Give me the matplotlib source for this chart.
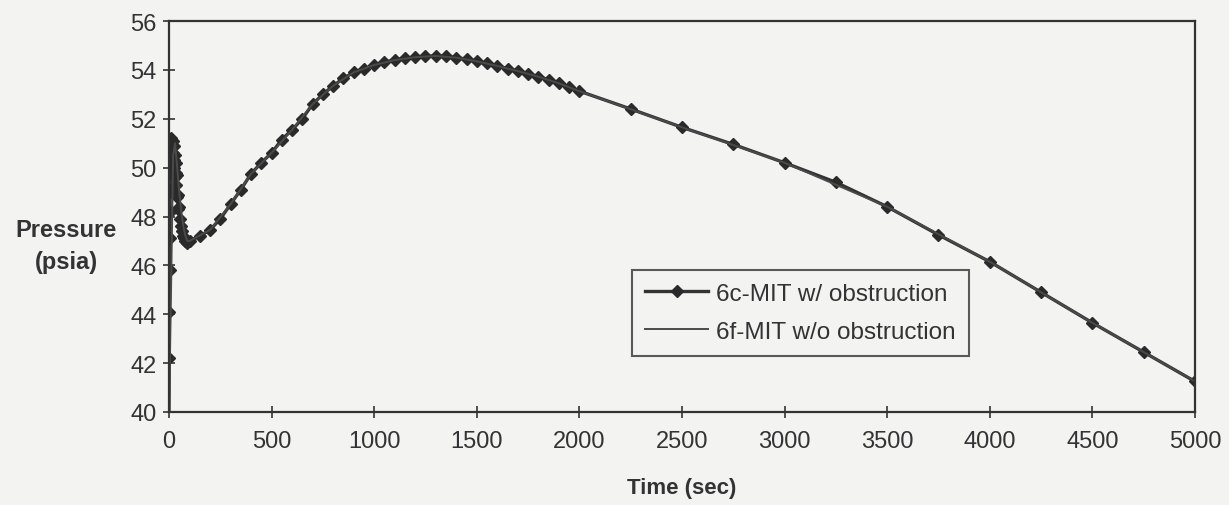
import matplotlib
matplotlib.use('Agg')
import matplotlib.pyplot as plt

# 6c-MIT w/ obstruction (diamond markers)
t_6c = [0, 1, 2, 3, 4, 5, 6, 8, 10, 12, 14, 16, 18, 20, 22, 24, 26, 28, 30, 32,
        34, 36, 38, 40, 43, 46, 50, 55, 60, 65, 70, 75, 80, 88,
        100, 150, 200, 250, 300, 350, 400, 450, 500, 550, 600, 650, 700, 750,
        800, 850, 900, 950, 1000, 1050, 1100, 1150, 1200, 1250, 1300, 1350,
        1400, 1450, 1500, 1550, 1600, 1650, 1700, 1750, 1800, 1850, 1900, 1950,
        2000, 2250, 2500, 2750, 3000, 3250, 3500, 3750, 4000, 4250, 4500, 4750, 5000]
p_6c = [39.8, 42.2, 44.1, 45.8, 47.1, 48.2, 49.0, 50.0, 50.8, 51.2, 50.9, 50.4, 51.1, 50.6,
        50.0, 50.9, 50.3, 49.6, 50.5, 49.8, 50.2, 49.3, 49.7, 48.8, 48.9, 48.3, 48.4, 47.9,
        47.6, 47.4, 47.2, 47.1, 47.0, 46.9,
        47.0, 47.2, 47.45, 47.9, 48.5, 49.1, 49.75, 50.2, 50.6, 51.15, 51.55, 52.0, 52.6, 53.0,
        53.35, 53.65, 53.9, 54.05, 54.2, 54.32, 54.4, 54.48, 54.52, 54.56, 54.57, 54.55,
        54.5, 54.44, 54.35, 54.27, 54.16, 54.05, 53.95, 53.83, 53.72, 53.6, 53.45, 53.3,
        53.13, 52.4, 51.65, 50.95, 50.2, 49.4, 48.4, 47.25, 46.15, 44.9, 43.65, 42.45, 41.25]

# 6f-MIT w/o obstruction (plain line)
t_6f = [0, 10, 20, 30, 40, 50, 60, 70, 80, 90, 100, 200, 300, 400, 500, 600, 700, 800,
        900, 1000, 1100, 1200, 1300, 1400, 1500, 1600, 1700, 1800, 1900, 2000, 2500,
        3000, 3500, 4000, 4500, 5000]
p_6f = [39.8, 45.0, 50.5, 51.0, 50.0, 49.0, 48.2, 47.6, 47.2, 47.0, 47.0, 47.45, 48.5, 49.75,
        50.6, 51.55, 52.6, 53.35, 53.9, 54.2, 54.4, 54.52, 54.57, 54.5, 54.35, 54.16,
        53.95, 53.72, 53.45, 53.13, 51.65, 50.2, 48.4, 46.15, 43.65, 41.25]

x_ticks = [0, 500, 1000, 1500, 2000, 2500, 3000, 3500, 4000, 4500, 5000]
y_ticks = [40, 42, 44, 46, 48, 50, 52, 54, 56]

ink = '#333333'
paper = '#f3f3f1'

plt.rc('font', family=['Liberation Sans', 'DejaVu Sans'], size=17)
plt.rc('text', color=ink)
plt.rc('axes', edgecolor=ink, labelcolor=ink, linewidth=1.6, facecolor=paper)
plt.rc('xtick', color=ink)
plt.rc('ytick', color=ink)

fig = plt.figure(figsize=(12.29, 5.06), dpi=100, facecolor=paper)
ax = fig.add_axes([0.1375, 0.1838, 0.8348, 0.7727])

ax.plot(t_6c, p_6c, color=ink, lw=2.4, marker='D', markersize=6.5,
        markerfacecolor='#2a2a2a', markeredgecolor='#2a2a2a',
        label='6c-MIT w/ obstruction')
ax.plot(t_6f, p_6f, color='#4a4a4a', lw=1.4, label='6f-MIT w/o obstruction')

ax.set_xlim(0, 5000)
ax.set_ylim(40, 56)
ax.set_xticks(x_ticks)
ax.set_yticks(y_ticks)
ax.tick_params(axis='both', direction='inout', length=8, width=1.2, labelsize=17)
ax.tick_params(axis='x', pad=9)
ax.tick_params(axis='y', pad=5)

ax.set_xlabel('Time (sec)', fontweight='bold', fontsize=16, labelpad=18)
ax.set_ylabel('Pressure\n(psia)', fontweight='bold', fontsize=17, rotation=0,
              ha='center', va='center', labelpad=0, linespacing=1.5)
ax.yaxis.set_label_coords(-0.1, 0.425)

leg = ax.legend(loc='lower left', bbox_to_anchor=(0.451, 0.143), borderaxespad=0,
                fancybox=False, frameon=True, edgecolor=ink, facecolor=paper,
                handlelength=2.6, handletextpad=0.3, labelspacing=0.65,
                borderpad=0.55, fontsize=17.5)
leg.get_frame().set_linewidth(1.5)
for txt in leg.get_texts():
    txt.set_color(ink)

fig.savefig('out.png', dpi=100, facecolor=paper)
